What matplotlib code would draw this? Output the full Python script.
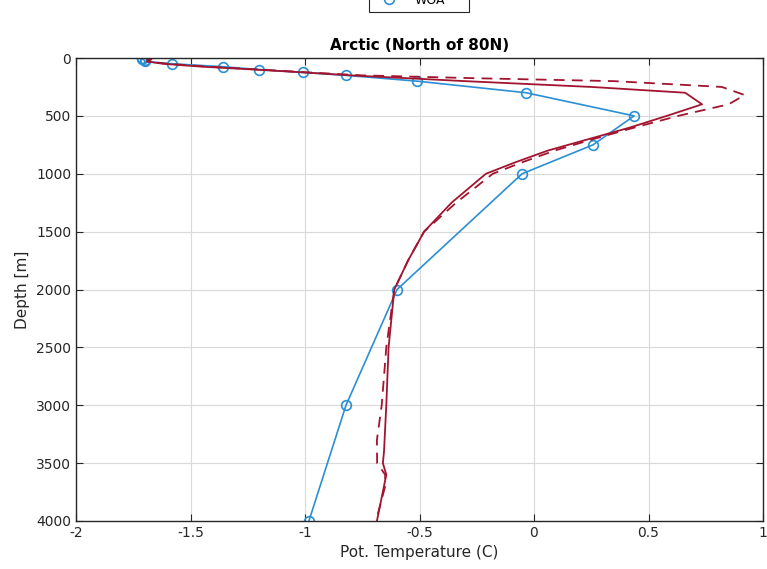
import numpy as np
import matplotlib
matplotlib.use('Agg')
import matplotlib.pyplot as plt

# observaciones (WOA) - puntos con circulos
obs_depth = [0, 10, 20, 30, 50, 75, 100, 125, 150, 200, 300, 500, 750, 1000, 2000, 3000, 4000]
obs_temp = [-1.71, -1.71, -1.70, -1.70, -1.58, -1.36, -1.20, -1.01, -0.82, -0.51, -0.035,
            0.437, 0.258, -0.052, -0.598, -0.821, -0.983]

# modelo, linea continua
mod_depth = [0, 10, 30, 50, 75, 100, 125, 150, 200, 250, 300, 400, 500, 600, 700, 800, 900,
             1000, 1250, 1500, 1750, 2000, 2500, 3000, 3400, 3500, 3600, 4000]
mod_temp = [-1.70, -1.67, -1.69, -1.62, -1.45, -1.22, -1.00, -0.80, -0.30, 0.25, 0.66, 0.734,
            0.58, 0.42, 0.24, 0.06, -0.08, -0.21, -0.36, -0.48, -0.55, -0.61, -0.635, -0.645,
            -0.655, -0.66, -0.645, -0.686]

# modelo 2, linea discontinua
mod2_depth = [0, 10, 30, 50, 75, 100, 125, 150, 175, 200, 250, 320, 400, 500, 600, 700, 800, 900,
              1000, 1250, 1500, 1750, 2000, 2500, 3000, 3300, 3500, 3600, 3700, 4000]
mod2_temp = [-1.70, -1.68, -1.69, -1.60, -1.42, -1.20, -0.98, -0.75, -0.25, 0.35, 0.82, 0.92,
             0.85, 0.63, 0.44, 0.26, 0.09, -0.05, -0.18, -0.34, -0.48, -0.55, -0.61, -0.645,
             -0.665, -0.686, -0.685, -0.65, -0.65, -0.69]

blue = '#2a8fd4'
red = '#a2142f'

fig = plt.figure(figsize=(7.67, 5.69), dpi=100)
ax = fig.add_axes([76/767, 1-521/569, 687/767, 463/569])

l1, = ax.plot(obs_temp, obs_depth, '-o', color=blue, lw=1.2, ms=7, mfc='none', mew=1.2)
l2, = ax.plot(mod_temp, mod_depth, '-', color=red, lw=1.3)
l3, = ax.plot(mod2_temp, mod2_depth, '--', color=red, lw=1.3, dashes=(6, 4))

ax.set_xlim(-2, 1)
ax.set_ylim(4000, 0)
ax.set_xticks(np.arange(-2, 1.01, 0.5))
ax.set_xticklabels(['-2', '-1.5', '-1', '-0.5', '0', '0.5', '1'])
ax.set_yticks(np.arange(0, 4001, 500))
ax.grid(True, color='#d9d9d9', lw=0.8)
ax.set_axisbelow(True)
ax.tick_params(direction='in', length=5, top=True, right=True, labelsize=10,
               colors='#262626', width=0.8)
for s in ax.spines.values():
    s.set_color('#262626')
    s.set_linewidth(1.0)

ax.set_xlabel('Pot. Temperature (C)', fontsize=11, color='#262626')
ax.set_ylabel('Depth [m]', fontsize=11, color='#262626')
ax.set_title('Arctic (North of 80N)', fontsize=11, fontweight='bold', pad=6)

# leyenda cortada en el borde superior
leg = fig.legend([l2, l3, l1], ['Model', 'Model 2', 'WOA'], loc='lower center',
                 bbox_to_anchor=(419/767, 1-18/569), fontsize=9, fancybox=False,
                 edgecolor='#262626', framealpha=1, handlelength=2.5)
leg.get_frame().set_linewidth(0.8)

fig.savefig('out.png', dpi=100)
